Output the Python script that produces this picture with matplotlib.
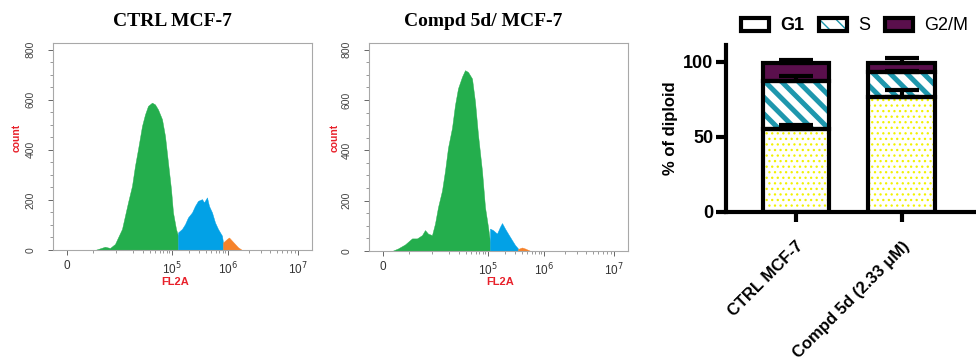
import matplotlib
matplotlib.use('Agg')
import matplotlib.pyplot as plt
from matplotlib.patches import Patch
from matplotlib.legend_handler import HandlerTuple
from matplotlib.ticker import MultipleLocator, FixedLocator
import numpy as np

# ---------------- data ----------------
# Flow cytometry histograms: x in display channel units, y = count
ctrl_g1_x = [42, 52, 57, 62, 65, 69, 72, 75, 79, 82, 85, 89, 92, 95, 99, 102, 105, 109, 112, 115, 118, 120, 123, 125]
ctrl_g1_y = [0, 13, 8, 24, 50, 84, 137, 190, 256, 336, 402, 495, 541, 575, 588, 581, 561, 522, 455, 349, 243, 150, 84, 57]
ctrl_s_x = [125, 129, 132, 135, 139, 142, 145, 149, 151, 154, 156, 159, 162, 165, 169, 170]
ctrl_s_y = [70, 84, 103, 130, 150, 176, 196, 203, 190, 210, 176, 150, 110, 84, 57, 30]
ctrl_g2_x = [170, 174, 176, 179, 182, 185, 189]
ctrl_g2_y = [30, 44, 50, 37, 24, 11, 0]

cmp_g1_x = [23, 29, 36, 43, 48, 53, 56, 59, 63, 66, 69, 73, 76, 79, 83, 86, 89, 93, 96, 99, 103, 106, 109, 113, 116, 119, 121]
cmp_g1_y = [0, 10, 26, 50, 50, 63, 83, 69, 63, 109, 174, 240, 318, 410, 489, 580, 646, 692, 718, 711, 685, 593, 462, 318, 174, 96, 37]
cmp_s_x = [121, 124, 128, 131, 133, 136, 139, 143, 146, 149]
cmp_s_y = [89, 83, 69, 96, 111, 89, 69, 43, 24, 10]
cmp_g2_x = [149, 153, 156, 161]
cmp_g2_y = [8, 14, 10, 1]

hist_ticks_pos = [14, 119, 175, 245]
hist_tick_labels = ['0', '10$^5$', '10$^6$', '10$^7$']
count_ticks = [0, 200, 400, 600, 800]

# Cell-cycle distribution (% of diploid)
groups = ['CTRL MCF-7', 'Compd 5d (2.33 \u03bcM)']
g1 = [55.0, 76.2]
s_phase = [32.3, 16.7]
g2m = [11.8, 6.2]
g1_err = [3.0, 5.0]
s_err = [3.4, 1.0]
g2m_err = [2.2, 3.5]

# ---------------- style ----------------
GREEN = '#24ae4d'
BLUE = '#02a1e6'
ORANGE = '#f6822a'
RED = '#e8202a'
TEAL = '#1e97ad'
PURPLE = '#5a0f4c'
YELLOW = '#f2f200'

fig = plt.figure(figsize=(9.76, 3.6), dpi=100)


def hist_panel(rect, segs, title, title_x, count_x, fl_x):
    ax = fig.add_axes(rect)
    for xs, ys, col in segs:
        ax.fill_between(xs, ys, 0, color=col, lw=0.3, edgecolor=col)
    ax.set_xlim(0, 259)
    ax.set_ylim(0, 826)
    for sp in ax.spines.values():
        sp.set_color('#a8a8a8')
        sp.set_linewidth(0.8)
    ax.set_xticks(hist_ticks_pos)
    ax.set_xticklabels(hist_tick_labels, fontsize=8.5, color='#333333',
                       family='Liberation Sans')
    minors = []
    for start, width in [(63, 56), (119, 56), (175, 70)]:
        for k in range(2, 10):
            minors.append(start + width * np.log10(k))
    minors += [40, 63]
    ax.xaxis.set_minor_locator(FixedLocator(minors))
    ax.set_yticks(count_ticks)
    ax.set_yticklabels([str(v) for v in count_ticks], rotation=90, va='center',
                       fontsize=7.5, color='#444444', family='Liberation Sans')
    ax.yaxis.set_minor_locator(MultipleLocator(50))
    ax.tick_params(axis='both', which='major', length=3.5, width=0.7, color='#666666')
    ax.tick_params(axis='both', which='minor', length=2, width=0.6, color='#888888')
    ax.tick_params(axis='y', which='major', pad=9)
    ax.tick_params(axis='x', which='major', pad=4)
    fig.text(title_x / 976, 1 - 21 / 360, title, ha='center', va='center',
             family='Liberation Serif', weight='bold', fontsize=14)
    fig.text(count_x / 976, 1 - 138 / 360, 'count', rotation=90, ha='center',
             va='center', color=RED, weight='bold', fontsize=7.5,
             family='Liberation Sans')
    fig.text(fl_x / 976, 1 - 282 / 360, 'FL2A', ha='center', va='center',
             color=RED, weight='bold', fontsize=8, family='Liberation Sans')
    return ax


hist_panel([53 / 976, 1 - 250 / 360, 259 / 976, 207 / 360],
           [(ctrl_g1_x, ctrl_g1_y, GREEN), (ctrl_s_x, ctrl_s_y, BLUE),
            (ctrl_g2_x, ctrl_g2_y, ORANGE)],
           'CTRL MCF-7', 172, 17, 175)
hist_panel([369 / 976, 1 - 251 / 360, 259 / 976, 208 / 360],
           [(cmp_g1_x, cmp_g1_y, GREEN), (cmp_s_x, cmp_s_y, BLUE),
            (cmp_g2_x, cmp_g2_y, ORANGE)],
           'Compd 5d/ MCF-7', 483, 335, 500)

# ---------------- stacked bar chart ----------------
ax3 = fig.add_axes([726 / 976, 1 - 212 / 360, 252 / 976, 167 / 360])
x = np.arange(len(groups))
w = 0.63
g1 = np.array(g1)
s_arr = np.array(s_phase)
g2 = np.array(g2m)

STRIPE_LW = 3.6


def set_hlw(patches, lw):
    for p in patches:
        if hasattr(p, 'set_hatch_linewidth'):
            p.set_hatch_linewidth(lw)


with plt.rc_context({'hatch.linewidth': 0.9}):
    ax3.bar(x, g1, w, color='white', edgecolor=YELLOW, hatch='...', lw=0, zorder=2)
with plt.rc_context({'hatch.linewidth': STRIPE_LW}):
    bs = ax3.bar(x, s_arr, w, bottom=g1, color='white', edgecolor=TEAL,
                 hatch='\\\\', lw=0, zorder=2)
    set_hlw(bs, STRIPE_LW)
ax3.bar(x, g2, w, bottom=g1 + s_arr, color=PURPLE, lw=0, zorder=2)

for bottom, h in [(0, g1), (g1, s_arr), (g1 + s_arr, g2)]:
    ax3.bar(x, h, w, bottom=bottom, fill=False, edgecolor='black', lw=3,
            zorder=3, joinstyle='miter')

err_kw = dict(fmt='none', ecolor='black', elinewidth=3, capsize=12, capthick=3, zorder=4)
ax3.errorbar(x, g1, yerr=[np.zeros(2), g1_err], **err_kw)
ax3.errorbar(x, g1 + s_arr, yerr=[np.zeros(2), s_err], **err_kw)
ax3.errorbar(x, g1 + s_arr + g2, yerr=[np.zeros(2), g2m_err], **err_kw)

ax3.set_xlim(-0.66, 1.72)
ax3.set_ylim(0, 111)
ax3.spines['top'].set_visible(False)
ax3.spines['right'].set_visible(False)
ax3.spines['left'].set_linewidth(3)
ax3.spines['bottom'].set_linewidth(3)
ax3.set_yticks([0, 50, 100])
ax3.set_yticklabels(['0', '50', '100'], fontsize=13, weight='bold', family='Liberation Sans')
ax3.set_xticks(x)
ax3.set_xticklabels(groups, rotation=45, ha='right', va='top', rotation_mode='anchor',
                    fontsize=12, weight='bold', family='Liberation Sans')
ax3.tick_params(axis='y', length=7, width=3, pad=2)
ax3.tick_params(axis='x', length=7, width=3, pad=12)
ax3.set_ylabel('% of diploid', fontsize=12, weight='bold', family='Liberation Sans',
               labelpad=4)

h_g1 = (Patch(facecolor='white', lw=0),
        Patch(fill=False, edgecolor='black', lw=3, joinstyle='round'))
with plt.rc_context({'hatch.linewidth': 3.0}):
    s_fill = Patch(facecolor='white', edgecolor=TEAL, hatch='\\\\', lw=0)
    set_hlw([s_fill], 3.0)
    h_s = (s_fill, Patch(fill=False, edgecolor='black', lw=3, joinstyle='round'))
h_g2 = (Patch(facecolor=PURPLE, lw=0),
        Patch(fill=False, edgecolor='black', lw=3, joinstyle='round'))
leg = fig.legend([h_g1, h_s, h_g2], ['G1', 'S', 'G2/M'], ncol=3, frameon=False,
                 loc='center left', bbox_to_anchor=(741 / 976, 1 - 26 / 360),
                 handler_map={tuple: HandlerTuple(ndivide=1, pad=0)},
                 handlelength=1.55, handleheight=0.75, handletextpad=0.6,
                 columnspacing=0.85, borderaxespad=0, borderpad=0,
                 prop={'family': 'Liberation Sans', 'size': 13})
leg.get_texts()[0].set_weight('bold')

fig.savefig('out.png', dpi=100)
